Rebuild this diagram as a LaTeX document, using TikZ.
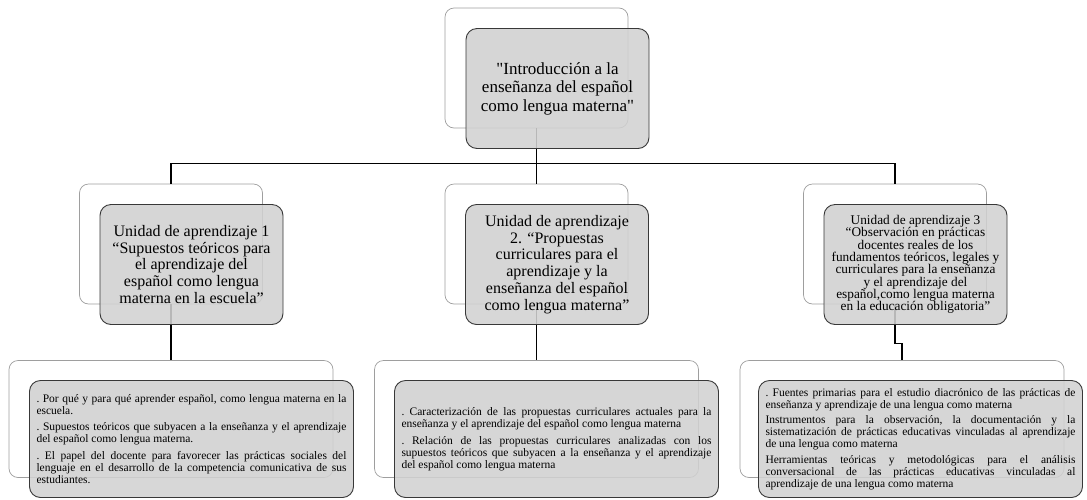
\documentclass[tikz,border=0pt]{standalone}
\usepackage{fontspec}
\setmainfont{Liberation Serif}
\newcommand\topicpar[1]{\frenchspacing\setlength{\parindent}{0pt}\setlength{\parskip}{#1}}
\tikzset{
  back/.style={draw=black!38,fill=white,rounded corners=9pt,line width=0.7pt,inner sep=0pt},
  front/.style={draw=black!78,fill=black!18,fill opacity=0.88,text opacity=1,
                rounded corners=11pt,line width=0.9pt,inner sep=0pt,align=center},
  unit/.style={minimum width=183pt,minimum height=120pt},
  topic/.style={minimum width=324pt,minimum height=117pt},
  topictxt/.style={topic,text width=310pt,inner xsep=6.5pt,align=justify,
                   font=\fontsize{11.5}{12}\selectfont},
  conn/.style={line width=1.5pt,black}
}
\begin{document}
\begin{tikzpicture}[x=1pt,y=-1pt]
  \useasboundingbox (0,0) rectangle (1087,499);
  % back frames
  \node[back,unit] (t0b) at (536.5,68)  {};
  \node[back,unit] (u1b) at (171,244)   {};
  \node[back,unit] (u2b) at (536.5,244) {};
  \node[back,unit] (u3b) at (895,244)   {};
  \node[back,topic] (d1b) at (171,419)   {};
  \node[back,topic] (d2b) at (536.5,419) {};
  \node[back,topic] (d3b) at (902,419)   {};
  % connectors
  \draw[conn] (t0b.south) -- ++(0,35) -| (u1b.north);
  \draw[conn] (t0b.south) -- ++(0,35) -| (u2b.north);
  \draw[conn] (t0b.south) -- ++(0,35) -| (u3b.north);
  \draw[conn] (u1b.south) -- (d1b.north);
  \draw[conn] (u2b.south) -- (d2b.north);
  \draw[conn] (u3b.south) -- ++(0,39) -| (d3b.north);
  % front boxes
  \node[front,unit,font=\fontsize{17}{18.5}\selectfont] (t0) at (557.5,88.5)
       {\textquotedbl Introducción a la\\enseñanza del español\\como lengua materna\textquotedbl};
  \node[front,unit,font=\fontsize{16}{16.7}\selectfont] (u1) at (191.5,264.5)
       {Unidad de aprendizaje 1\\“Supuestos teóricos para\\el aprendizaje del\\español como lengua\\materna en la escuela”};
  \node[front,unit,font=\fontsize{16}{16.7}\selectfont] (u2) at (557,264.5)
       {Unidad de aprendizaje\\2. “Propuestas\\curriculares para el\\aprendizaje y la\\enseñanza del español\\como lengua materna”};
  \node[front,unit,font=\fontsize{13.3}{12.3}\selectfont] (u3) at (915.5,264.5)
       {Unidad de aprendizaje 3\\“Observación en prácticas\\docentes reales de los\\fundamentos teóricos, legales y\\curriculares para la enseñanza\\y el aprendizaje del\\español,como lengua materna\\en la educación obligatoria”};
  % topic lists
  \node[front,topictxt] (d1) at (191.5,439)
       {\topicpar{4.5pt}%
        . Por qué y para qué aprender español, como lengua materna en la\linebreak escuela.\par
        . Supuestos teóricos que subyacen a la enseñanza y el aprendizaje\linebreak del español como lengua materna.\par
        . El papel del docente para favorecer las prácticas sociales del\linebreak lenguaje en el desarrollo de la competencia comunicativa de sus\linebreak estudiantes.};
  \node[front,topictxt] (d2) at (556.5,439)
       {\topicpar{5pt}%
        . Caracterización de las propuestas curriculares actuales para la\linebreak enseñanza y el aprendizaje del español como lengua materna\par
        . Relación de las propuestas curriculares analizadas con los\linebreak supuestos teóricos que subyacen a la enseñanza y el aprendizaje\linebreak del español como lengua materna};
  \node[front,topictxt] (d3) at (920.5,439)
       {\topicpar{3.5pt}%
        . Fuentes primarias para el estudio diacrónico de las prácticas de\linebreak enseñanza y aprendizaje de una lengua como materna\par
        Instrumentos para la observación, la documentación y la\linebreak sistematización de prácticas educativas vinculadas al aprendizaje\linebreak de una lengua como materna\par
        Herramientas teóricas y metodológicas para el análisis\linebreak conversacional de las prácticas educativas vinculadas al\linebreak aprendizaje de una lengua como materna};
\end{tikzpicture}
\end{document}
